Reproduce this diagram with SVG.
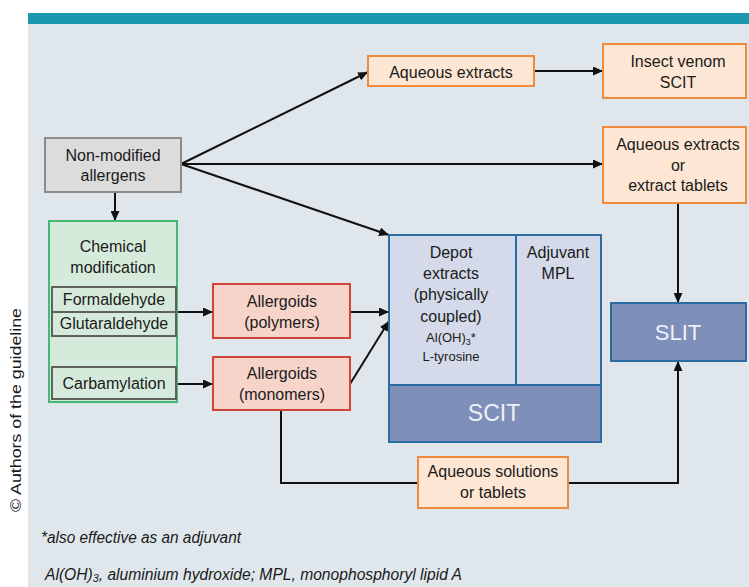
<svg xmlns="http://www.w3.org/2000/svg" width="749" height="587" viewBox="0 0 749 587">
<defs>
<marker id="ah" markerUnits="userSpaceOnUse" markerWidth="10" markerHeight="9" refX="10" refY="4.5" orient="auto">
<path d="M0,0 L10,4.5 L0,9 z" fill="#111"/>
</marker>
<style>
.t{font-family:"Liberation Sans",Arial,sans-serif;font-size:16px;fill:#1a1a1a;text-anchor:middle}
.s{font-size:13px}
.w{fill:#eef1f8;font-size:23px}
.orange{fill:#fde6d3;stroke:#f08a3c;stroke-width:2}
.gray{fill:#dcdcdc;stroke:#8c8c8c;stroke-width:2}
.green{fill:#d6eadb;stroke:#45b877;stroke-width:2}
.inner{fill:#d6eadb;stroke:#606060;stroke-width:2}
.red{fill:#f7d4c9;stroke:#cf4338;stroke-width:2}
.blueL{fill:#d4dae9;stroke:#2b6ca3;stroke-width:2}
.blueD{fill:#7e8fb9;stroke:#2b6ca3;stroke-width:2}
.c{fill:none;stroke:#111;stroke-width:2}
.fn{font-family:"Liberation Sans",Arial,sans-serif;font-size:16px;font-style:italic;fill:#1a1a1a}
</style>
</defs>
<rect x="28" y="13" width="721" height="574" fill="#dfe7ec"/>
<rect x="28" y="13" width="721" height="11" fill="#1b97b0"/>
<text class="t" transform="translate(21,410) rotate(-90)" x="0" y="0" style="font-size:15px" textLength="204" lengthAdjust="spacingAndGlyphs">© Authors of the guideline</text>

<g id="connectors">
<line class="c" x1="181" y1="164" x2="368" y2="72" marker-end="url(#ah)"/>
<line class="c" x1="181" y1="164" x2="603" y2="164" marker-end="url(#ah)"/>
<line class="c" x1="181" y1="164" x2="389" y2="235" marker-end="url(#ah)"/>
<line class="c" x1="534" y1="71" x2="603" y2="71" marker-end="url(#ah)"/>
<line class="c" x1="115" y1="192" x2="115" y2="221" marker-end="url(#ah)"/>
<line class="c" x1="176" y1="312" x2="213" y2="312" marker-end="url(#ah)"/>
<line class="c" x1="176" y1="384" x2="213" y2="384" marker-end="url(#ah)"/>
<line class="c" x1="350" y1="312" x2="389" y2="312" marker-end="url(#ah)"/>
<line class="c" x1="350" y1="384" x2="389" y2="321" marker-end="url(#ah)"/>
<line class="c" x1="678" y1="203" x2="678" y2="303" marker-end="url(#ah)"/>
<polyline class="c" points="281,410 281,483 678,483 678,361" marker-end="url(#ah)"/>
</g>

<g id="aqueous-extracts">
<rect class="orange" x="368" y="56" width="166" height="30"/>
<text class="t" x="451" y="78">Aqueous extracts</text>
</g>
<g id="insect-venom">
<rect class="orange" x="603" y="44" width="143" height="54"/>
<text class="t" x="678" y="67">Insect venom</text>
<text class="t" x="678" y="88">SCIT</text>
</g>
<g id="aqueous-tablets">
<rect class="orange" x="603" y="127" width="143" height="76"/>
<text class="t" x="678" y="150">Aqueous extracts</text>
<text class="t" x="678" y="171">or</text>
<text class="t" x="678" y="191">extract tablets</text>
</g>
<g id="non-modified">
<rect class="gray" x="45" y="138" width="136" height="54"/>
<text class="t" x="113" y="161">Non-modified</text>
<text class="t" x="113" y="181">allergens</text>
</g>
<g id="chemical">
<rect class="green" x="49" y="221" width="128" height="181"/>
<text class="t" x="113" y="252">Chemical</text>
<text class="t" x="113" y="273">modification</text>
</g>
<g id="formaldehyde">
<rect class="inner" x="52" y="287" width="124" height="25"/>
<text class="t" x="114" y="305">Formaldehyde</text>
</g>
<g id="glutaraldehyde">
<rect class="inner" x="52" y="312" width="124" height="24"/>
<text class="t" x="114" y="329">Glutaraldehyde</text>
</g>
<g id="carbamylation">
<rect class="inner" x="52" y="367" width="124" height="32"/>
<text class="t" x="114" y="389">Carbamylation</text>
</g>
<g id="polymers">
<rect class="red" x="213" y="284" width="137" height="54"/>
<text class="t" x="282" y="307">Allergoids</text>
<text class="t" x="282" y="328">(polymers)</text>
</g>
<g id="monomers">
<rect class="red" x="213" y="357" width="137" height="53"/>
<text class="t" x="282" y="379">Allergoids</text>
<text class="t" x="282" y="400">(monomers)</text>
</g>
<g id="scit">
<rect class="blueL" x="389" y="235" width="127" height="150"/>
<rect class="blueL" x="516" y="235" width="85" height="150"/>
<rect class="blueD" x="389" y="385" width="212" height="57"/>
<text class="t" x="451" y="258">Depot</text>
<text class="t" x="451" y="279">extracts</text>
<text class="t" x="451" y="300">(physically</text>
<text class="t" x="451" y="322">coupled)</text>
<text class="t s" x="451" y="342">Al(OH)<tspan font-size="9" dy="3">3</tspan><tspan dy="-3">*</tspan></text>
<text class="t s" x="451" y="361">L-tyrosine</text>
<text class="t" x="558" y="258">Adjuvant</text>
<text class="t" x="558" y="279">MPL</text>
<text class="t w" x="494" y="421">SCIT</text>
</g>
<g id="slit">
<rect class="blueD" x="611" y="303" width="135" height="58"/>
<text class="t w" x="678" y="340" style="font-size:22px">SLIT</text>
</g>
<g id="aqueous-solutions">
<rect class="orange" x="418" y="457" width="150" height="51"/>
<text class="t" x="493" y="477">Aqueous solutions</text>
<text class="t" x="493" y="498">or tablets</text>
</g>
<text class="fn" x="41" y="543" textLength="200" lengthAdjust="spacingAndGlyphs">*also effective as an adjuvant</text>
<text class="fn" x="45" y="580" textLength="417" lengthAdjust="spacingAndGlyphs">Al(OH)<tspan font-size="11" dy="2">3</tspan><tspan dy="-2">, aluminium hydroxide; MPL, monophosphoryl lipid A</tspan></text>
</svg>
